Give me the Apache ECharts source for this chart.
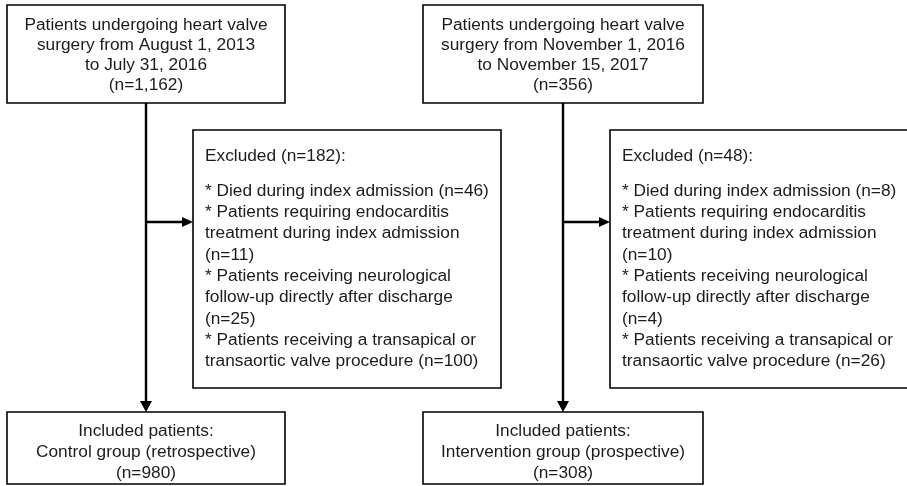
<!DOCTYPE html>
<html>
<head>
<meta charset="utf-8">
<title>Patient flow chart</title>
<script src="https://cdn.jsdelivr.net/npm/echarts@6/dist/echarts.min.js"></script>
<style>
  html, body { margin: 0; padding: 0; background: #fff; }
</style>
</head>
<body>
<div id="main" style="width: 907px; height: 486px;"></div>
<script>
// data
var periods = [['August 1, 2013', 'July 31, 2016'], ['November 1, 2016', 'November 15, 2017']];
var enrolledN = [1162, 356];
var excludedN = [182, 48];
var reasons = [
  'Died during index admission',
  'Patients requiring endocarditis\ntreatment during index admission',
  'Patients receiving neurological\nfollow-up directly after discharge',
  'Patients receiving a transapical or\ntransaortic valve procedure'
];
var reasonJoin = [' ', '\n', '\n', ' '];   // where the (n=..) goes
var reasonN = [[46, 11, 25, 100], [8, 10, 4, 26]];
var groups = ['Control group (retrospective)', 'Intervention group (prospective)'];
var includedN = [980, 308];

// layout in page pixels (x0, y0, x1, y1)
var topBox = [[7, 5, 285, 103], [423, 5, 703, 103]];
var exclBox = [[193, 130, 501, 388], [610, 130, 908, 388]];
var inclBox = [[7, 412, 285, 484], [423, 412, 703, 484]];
var trunkX = [146, 563];
var branchY = 222;

var FONT = '"Liberation Sans", Arial, sans-serif';
var INK = '#1c1c1c';
var FS = 17.3;

function fmt(n) { return n.toLocaleString('en-US'); }

function topText(k) {
  return 'Patients undergoing heart valve\nsurgery from ' + periods[k][0] +
    '\nto ' + periods[k][1] + '\n(n=' + fmt(enrolledN[k]) + ')';
}
function exclList(k) {
  return reasons.map(function (r, j) {
    return '* ' + r + reasonJoin[j] + '(n=' + reasonN[k][j] + ')';
  }).join('\n');
}
function inclText(k) {
  return 'Included patients:\n' + groups[k] + '\n(n=' + includedN[k] + ')';
}

function rectOf(api, b) {
  var p0 = api.coord([b[0], b[1]]);
  var p1 = api.coord([b[2], b[3]]);
  return { x: p0[0], y: p0[1], width: p1[0] - p0[0], height: p1[1] - p0[1] };
}
function frame(api, b) {
  return { type: 'rect', shape: rectOf(api, b),
    style: { fill: '#fff', stroke: '#000', lineWidth: 1.6 } };
}
function txt(api, x, y, s, align, vAlign, lh) {
  var p = api.coord([x, y]);
  return { type: 'text', style: { text: s, x: p[0], y: p[1], fill: INK,
    fontSize: FS, fontFamily: FONT, align: align, verticalAlign: vAlign, lineHeight: lh } };
}

function renderBoxes(params, api) {
  var k = params.dataIndex;
  var t = topBox[k], e = exclBox[k], c = inclBox[k];
  return { type: 'group', children: [
    frame(api, t),
    txt(api, (t[0] + t[2]) / 2, 55, topText(k), 'center', 'middle', 20),
    frame(api, e),
    txt(api, e[0] + 12, 156, 'Excluded (n=' + excludedN[k] + '):', 'left', 'middle', 20),
    txt(api, e[0] + 12, 180.4, exclList(k), 'left', 'top', 21.3),
    frame(api, c),
    txt(api, (c[0] + c[2]) / 2, 452, inclText(k), 'center', 'middle', 21)
  ] };
}

function renderLinks(params, api) {
  var k = params.dataIndex;
  var x = trunkX[k];
  var yTop = topBox[k][3], yEnd = inclBox[k][1], xEnd = exclBox[k][0];
  function P(a, b) { return api.coord([a, b]); }
  var ln = { stroke: '#000', lineWidth: 2.4 };
  var a = P(x, yTop), b = P(x, yEnd - 10);
  var h0 = P(x, branchY), h1 = P(xEnd - 10, branchY);
  return { type: 'group', children: [
    { type: 'line', shape: { x1: a[0], y1: a[1], x2: b[0], y2: b[1] }, style: ln },
    { type: 'polygon', shape: { points: [P(x - 6, yEnd - 11), P(x + 6, yEnd - 11), P(x, yEnd)] },
      style: { fill: '#000' } },
    { type: 'line', shape: { x1: h0[0], y1: h0[1], x2: h1[0], y2: h1[1] }, style: ln },
    { type: 'polygon', shape: { points: [P(xEnd - 11, branchY - 5), P(xEnd - 11, branchY + 5), P(xEnd, branchY)] },
      style: { fill: '#000' } }
  ] };
}

var myChart = echarts.init(document.getElementById('main'));
var option = {
  backgroundColor: '#fff',
  animation: false,
  grid: { left: 0, right: 0, top: 0, bottom: 0 },
  xAxis: { type: 'value', min: 0, max: 907, show: false },
  yAxis: { type: 'value', min: 0, max: 486, inverse: true, show: false },
  series: [
    { type: 'custom', coordinateSystem: 'cartesian2d', clip: false, silent: true,
      data: [[0, 0], [1, 0]], renderItem: renderLinks, z: 1 },
    { type: 'custom', coordinateSystem: 'cartesian2d', clip: false, silent: true,
      data: [[0, 0], [1, 0]], renderItem: renderBoxes, z: 2 }
  ]
};
myChart.setOption(option);
</script>
</body>
</html>
